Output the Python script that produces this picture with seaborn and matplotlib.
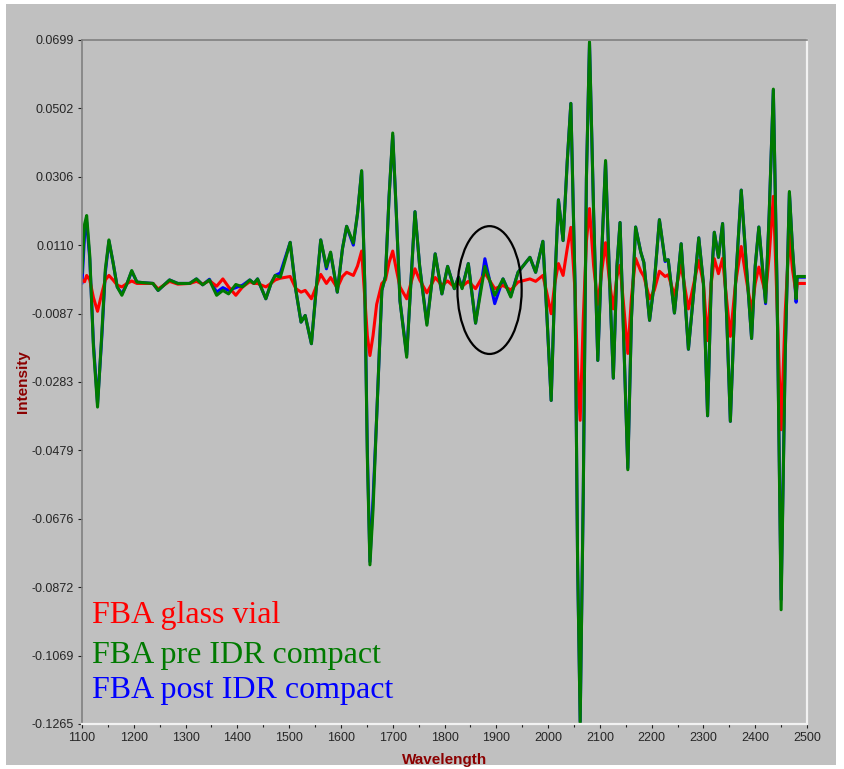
import numpy as np
import pandas as pd
import seaborn as sns
import matplotlib
matplotlib.use("Agg")
import matplotlib.pyplot as plt
from matplotlib.patches import Ellipse, Rectangle
from matplotlib.ticker import MultipleLocator

wavelength = [1100, 1105, 1109, 1115, 1122, 1130, 1138, 1145, 1152, 1160, 1168, 1177, 1187, 1196,
              1206, 1220, 1237, 1247, 1258, 1269, 1285, 1308, 1321, 1333, 1346, 1360, 1372, 1383,
              1397, 1410, 1424, 1432, 1439, 1455, 1465, 1473, 1483, 1502, 1513, 1523, 1531, 1543,
              1552, 1561, 1572, 1580, 1593, 1603, 1611, 1624, 1632, 1640, 1646, 1651, 1656, 1662,
              1669, 1679, 1686, 1693, 1700, 1707, 1714, 1727, 1735, 1743, 1752, 1766, 1782, 1795,
              1806, 1819, 1827, 1834, 1846, 1860, 1878, 1897, 1913, 1928, 1942, 1965, 1976, 1990,
              1998, 2006, 2013, 2020, 2029, 2037, 2044, 2052, 2057, 2062, 2068, 2074, 2080, 2088,
              2096, 2104, 2111, 2119, 2126, 2133, 2139, 2147, 2154, 2161, 2169, 2179, 2185, 2196,
              2205, 2215, 2226, 2232, 2244, 2257, 2271, 2291, 2300, 2308, 2315, 2321, 2329, 2337,
              2345, 2352, 2362, 2373, 2383, 2393, 2400, 2407, 2420, 2427, 2435, 2442, 2450, 2458,
              2466, 2472, 2479, 2481, 2500]

pre_idr = [0.003, 0.017, 0.0195, 0.008, -0.018, -0.0355, -0.015, 0.004, 0.0125, 0.006, -0.001, -0.0034, 0.0, 0.0037,
           0.0004, 0.0002, 0.0, -0.002, -0.0005, 0.001, 0.0, 0.0, 0.0013, -0.0004, 0.001, -0.0034, -0.002, -0.003,
           -0.0003, -0.001, 0.001, 0.0, 0.0013, -0.0044, 0.0, 0.0023, 0.0018, 0.0118, -0.002, -0.0111, -0.0092, -0.0173,
           -0.002, 0.0125, 0.0047, 0.009, -0.0025, 0.010, 0.0164, 0.0116, 0.020, 0.0324, 0.0, -0.05, -0.0808, -0.065,
           -0.0384, -0.002, 0.002, 0.025, 0.0432, 0.02, -0.005, -0.0212, 0.0, 0.0206, 0.005, -0.012, 0.0085, -0.003,
           0.0049, -0.0015, 0.0018, -0.0015, 0.0057, -0.0114, 0.0049, -0.0034, 0.0013, -0.0039, 0.0032, 0.0075, 0.0032, 0.0121,
           -0.01, -0.0336, 0.0, 0.024, 0.0123, 0.035, 0.0517, 0.0, -0.08, -0.1262, -0.06, 0.03, 0.0694, 0.02,
           -0.0221, 0.01, 0.0353, 0.0, -0.0272, 0.005, 0.0175, -0.02, -0.0535, -0.01, 0.0162, 0.009, 0.006, -0.0106,
           0.0, 0.0183, 0.0066, 0.0068, -0.0085, 0.0114, -0.0189, 0.0131, 0.0, -0.038, 0.0, 0.0147, 0.0075, 0.0172,
           -0.01, -0.0396, 0.0, 0.0268, 0.005, -0.0158, 0.005, 0.0162, -0.0054, 0.02, 0.0558, 0.0, -0.0937, -0.02,
           0.0264, 0.01, -0.0044, 0.002, 0.002]

post_idr = [0.000, 0.014, 0.0176, 0.007, -0.017, -0.0345, -0.016, 0.003, 0.0122, 0.006, -0.001, -0.003, 0.0, 0.0035,
            0.0004, 0.0002, 0.0, -0.002, -0.0005, 0.001, 0.0, 0.0, 0.0013, -0.0004, 0.0012, -0.0025, -0.0012, -0.002,
            -0.0012, -0.0005, 0.001, 0.0, 0.0013, -0.0044, 0.0, 0.0023, 0.003, 0.0118, -0.002, -0.0111, -0.0092, -0.0173,
            -0.002, 0.0125, 0.0042, 0.0088, -0.0025, 0.010, 0.0164, 0.0110, 0.020, 0.0322, 0.0, -0.048, -0.0799, -0.062,
            -0.0384, -0.002, 0.002, 0.025, 0.0425, 0.02, -0.005, -0.0205, 0.0, 0.0206, 0.005, -0.0115, 0.0085, -0.003,
            0.0049, -0.0015, 0.0018, -0.0012, 0.0057, -0.0114, 0.0071, -0.0058, 0.0013, -0.0036, 0.0032, 0.0075, 0.0032, 0.0121,
            -0.01, -0.0336, 0.0, 0.024, 0.0123, 0.035, 0.0517, 0.0, -0.08, -0.1258, -0.06, 0.03, 0.0690, 0.02,
            -0.0221, 0.01, 0.0350, 0.0, -0.0272, 0.005, 0.0175, -0.02, -0.0530, -0.01, 0.0162, 0.009, 0.006, -0.0106,
            0.0, 0.0183, 0.0063, 0.0068, -0.0085, 0.0114, -0.0189, 0.0131, 0.0, -0.038, 0.0, 0.0147, 0.0075, 0.0172,
            -0.01, -0.0396, 0.0, 0.0268, 0.005, -0.0158, 0.005, 0.0162, -0.0058, 0.02, 0.0555, 0.0, -0.0908, -0.02,
            0.0260, 0.01, -0.0054, 0.0018, 0.0018]

glass_vial = [0.001, 0.0005, 0.0023, 0.001, -0.004, -0.008, -0.003, 0.001, 0.0023, 0.001, -0.0005, -0.001, 0.0, 0.0007,
              0.0, 0.0, 0.0, -0.0016, -0.0005, 0.0006, -0.0002, 0.0, 0.0006, -0.0002, 0.0008, -0.0008, 0.0013, -0.001,
              -0.0034, -0.001, 0.0005, 0.0, 0.0, -0.001, 0.0, 0.001, 0.0015, 0.002, -0.0015, -0.0025, -0.002, -0.0044,
              -0.001, 0.0026, 0.0, 0.0017, -0.0013, 0.002, 0.0032, 0.0023, 0.005, 0.0093, -0.004, -0.015, -0.0207, -0.015,
              -0.006, 0.0, 0.001, 0.006, 0.0093, 0.004, -0.001, -0.0044, 0.0, 0.0042, 0.001, -0.0027, 0.0017, -0.0005,
              0.0007, -0.001, 0.0002, -0.0008, 0.0006, -0.0015, 0.003, -0.0015, -0.0006, -0.0019, 0.0004, 0.0013, 0.0006, 0.0023,
              -0.003, -0.0087, 0.0, 0.0057, 0.0023, 0.010, 0.0161, -0.002, -0.025, -0.0393, -0.01, 0.012, 0.0215, 0.005,
              -0.006, 0.004, 0.0117, 0.0, -0.0073, 0.002, 0.0052, -0.008, -0.0201, -0.004, 0.0072, 0.0035, 0.002, -0.0044,
              -0.002, 0.0035, 0.002, 0.0025, -0.0034, 0.0052, -0.0073, 0.0066, 0.0, -0.0164, 0.0, 0.0071, 0.0028, 0.0072,
              -0.005, -0.0152, 0.0, 0.0106, 0.001, -0.0078, 0.0, 0.0047, -0.003, 0.008, 0.025, -0.005, -0.042, -0.008,
              0.014, 0.004, -0.003, 0.0, 0.0]

ytick_labels = ["-0.1265", "-0.1069", "-0.0872", "-0.0676", "-0.0479", "-0.0283",
                "-0.0087", "0.0110", "0.0306", "0.0502", "0.0699"]
series_names = ["FBA glass vial", "FBA pre IDR compact", "FBA post IDR compact"]
series_colors = ["#ff0000", "#007a00", "#0000ff"]

df = pd.DataFrame({
    "Wavelength": wavelength * 3,
    "Intensity": glass_vial + pre_idr + post_idr,
    "Sample": [series_names[0]] * len(wavelength) + [series_names[1]] * len(wavelength)
              + [series_names[2]] * len(wavelength),
})

sns.set_style("white")
plt.rcParams["font.family"] = ["Liberation Sans", "DejaVu Sans"]

fig = plt.figure(figsize=(8.44, 7.69), dpi=100)
fig.patch.set_facecolor("white")
bg = Rectangle((6 / 844, 4 / 769), 830 / 844, 761 / 769, transform=fig.transFigure,
               facecolor="#c0c0c0", edgecolor="none", zorder=-10)
fig.patches.append(bg)
ax = fig.add_axes([82 / 844, 1 - 724 / 769, 725 / 844, 684 / 769])
ax.set_zorder(1)
ax.set_facecolor("#c0c0c0")

draw_order = [series_names[2], series_names[0], series_names[1]]
for name in draw_order:
    sub = df[df["Sample"] == name]
    sns.lineplot(data=sub, x="Wavelength", y="Intensity", ax=ax, color=series_colors[series_names.index(name)],
                 linewidth=2.2, legend=False, estimator=None, sort=False)
for line in ax.get_lines():
    line.set_solid_joinstyle("round")
    line.set_solid_capstyle("round")

ax.set_xlim(1100, 2500)
ax.set_ylim(-0.1265, 0.0699)
ax.set_xticks(np.arange(1100, 2501, 100))
ax.xaxis.set_minor_locator(MultipleLocator(50))
ax.set_yticks(np.linspace(-0.1265, 0.0699, 11))
ax.set_yticklabels(ytick_labels)
ax.tick_params(axis="both", which="major", labelsize=9, length=3, width=0.8, color="#202020", pad=3,
               direction="out", bottom=True, left=True)
ax.tick_params(axis="x", which="minor", length=2.5, width=0.8, color="#202020", bottom=True)

for side in ["left", "top"]:
    ax.spines[side].set_color("#808080")
    ax.spines[side].set_linewidth(1.2)
for side in ["right", "bottom"]:
    ax.spines[side].set_color("#f2f2f2")
    ax.spines[side].set_linewidth(1.6)

ax.set_xlabel("Wavelength", color="#8b0000", fontweight="bold", fontsize=11, labelpad=6)
ax.set_ylabel("Intensity", color="#8b0000", fontweight="bold", fontsize=11, labelpad=1)

ax.add_patch(Ellipse((1887, -0.0019), 124, 0.0367, fill=False, edgecolor="black", linewidth=1.6, zorder=5))

legend_y = [0.159, 0.100, 0.049]
for name, color, yy in zip(series_names, series_colors, legend_y):
    ax.text(0.014, yy, name, transform=ax.transAxes, color=color, fontsize=23,
            family=["Liberation Serif", "DejaVu Serif"], va="center", ha="left")

fig.savefig("out.png", dpi=100)
